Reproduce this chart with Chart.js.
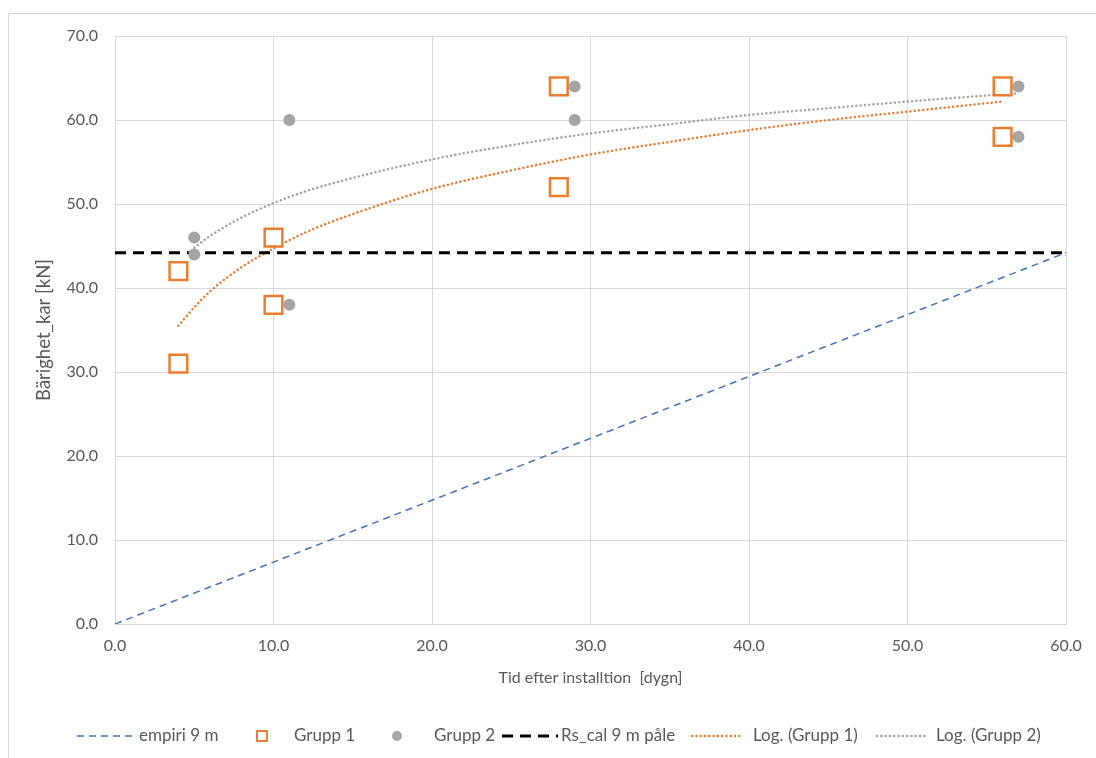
<!DOCTYPE html>
<html>
<head>
<meta charset="utf-8">
<script src="https://cdn.jsdelivr.net/npm/chart.js@4.4.1/dist/chart.umd.min.js"></script>
<style>
    html, body { margin: 0; padding: 0; background: #fff; overflow: hidden; }
    .frame { position: absolute; left: 8px; top: 13px; width: 1120px; height: 780px; border: 1px solid #d9d9d9; }
    #chart { position: absolute; left: 0; top: 0; }
</style>
</head>
<body>
<div class="frame"></div>
<canvas id="chart" width="1096" height="758"></canvas>
<script>
// Values
const daysG1 = [4, 4, 10, 10, 28, 28, 56, 56];
const loadG1 = [31, 42, 38, 46, 64, 52, 64, 58];
const daysG2 = [5, 5, 11, 11, 29, 29, 57, 57];
const loadG2 = [46, 44, 60, 38, 64, 60, 64, 58];

const empiriX = [0, 60];
const empiriY = [0, 44.2];
const rsX = [0, 60];
const rsY = [44.2, 44.2];

// trendlines
const logX1 = [4, 5, 6, 8, 10, 12, 15, 20, 25, 30, 35, 40, 45, 50, 56];
const logY1 = [35.5, 37.7, 39.6, 42.5, 44.7, 46.6, 48.8, 51.8, 54.0, 55.9, 57.4, 58.8, 60.0, 61.0, 62.2];
const logX2 = [5, 6, 8, 10, 12, 15, 20, 25, 30, 35, 40, 45, 50, 57];
const logY2 = [44.8, 46.2, 48.4, 50.1, 51.5, 53.1, 55.3, 57.0, 58.4, 59.5, 60.6, 61.4, 62.2, 63.2];

const xTitle = 'Tid efter installtion  [dygn]';
const yTitle = 'Bärighet_kar [kN]';

function pairs(xs, ys) {
    return xs.map((x, i) => ({ x: x, y: ys[i] }));
}

const textColor = '#595959';
const gridColor = '#d9d9d9';
const fontFamily = 'Lato, "Open Sans", sans-serif';

// Excel style legend at the bottom
const legendPlugin = {
    id: 'excelLegend',
    afterDraw(chart) {
        const ctx = chart.ctx;
        const y = 736;
        // [sample start, sample length, label start] per dataset
        const slots = [[77, 56, 139], [234, 56, 294], [369, 56, 434], [502, 56, 561], [692, 50, 753], [877, 50, 936]];
        ctx.save();
        ctx.font = '17px ' + fontFamily;
        ctx.textBaseline = 'middle';
        chart.data.datasets.forEach((ds, k) => {
            const [sx, len, tx] = slots[k];
            if (ds.showLine) {
                ctx.beginPath();
                ctx.setLineDash(ds.borderDash || []);
                ctx.lineCap = ds.borderCapStyle || 'butt';
                ctx.strokeStyle = ds.borderColor;
                ctx.lineWidth = ds.borderWidth;
                ctx.moveTo(sx, y);
                ctx.lineTo(sx + len, y);
                ctx.stroke();
                ctx.setLineDash([]);
            } else if (ds.pointStyle === 'rect') {
                ctx.strokeStyle = ds.borderColor;
                ctx.lineWidth = 2;
                ctx.fillStyle = '#fff';
                ctx.fillRect(sx + 23, y - 5, 10, 10);
                ctx.strokeRect(sx + 23, y - 5, 10, 10);
            } else {
                ctx.beginPath();
                ctx.fillStyle = ds.backgroundColor;
                ctx.arc(sx + 28, y, 5, 0, Math.PI * 2);
                ctx.fill();
            }
            ctx.fillStyle = textColor;
            ctx.fillText(ds.label, tx, y);
        });
        ctx.restore();
    }
};

const ctx = document.getElementById('chart').getContext('2d');
const chart = new Chart(ctx, {
    type: 'scatter',
    data: {
        datasets: [
            {
                label: 'empiri 9 m',
                data: pairs(empiriX, empiriY),
                showLine: true,
                borderColor: '#4472C4',
                borderWidth: 1.5,
                borderDash: [7, 5],
                pointRadius: 0,
                order: 6
            },
            {
                label: 'Grupp 1',
                data: pairs(daysG1, loadG1),
                pointStyle: 'rect',
                pointRadius: 12.5,
                pointHoverRadius: 12.5,
                borderColor: '#ED7D31',
                backgroundColor: '#ffffff',
                borderWidth: 2.5,
                order: 1
            },
            {
                label: 'Grupp 2',
                data: pairs(daysG2, loadG2),
                pointStyle: 'circle',
                pointRadius: 6,
                pointHoverRadius: 6,
                borderColor: '#A5A5A5',
                backgroundColor: '#A5A5A5',
                borderWidth: 0,
                order: 2
            },
            {
                label: 'Rs_cal 9 m påle',
                data: pairs(rsX, rsY),
                showLine: true,
                borderColor: '#000000',
                borderWidth: 3,
                borderDash: [11, 7],
                pointRadius: 0,
                order: 3
            },
            {
                label: 'Log. (Grupp 1)',
                data: pairs(logX1, logY1),
                showLine: true,
                borderColor: '#ED7D31',
                borderWidth: 2.5,
                borderDash: [0.1, 4.2],
                borderCapStyle: 'round',
                cubicInterpolationMode: 'monotone',
                pointRadius: 0,
                order: 4
            },
            {
                label: 'Log. (Grupp 2)',
                data: pairs(logX2, logY2),
                showLine: true,
                borderColor: '#A5A5A5',
                borderWidth: 2.5,
                borderDash: [0.1, 4.2],
                borderCapStyle: 'round',
                cubicInterpolationMode: 'monotone',
                pointRadius: 0,
                order: 5
            }
        ]
    },
    options: {
        responsive: false,
        animation: false,
        layout: {
            padding: { left: 0, top: 36, right: 30, bottom: 63 }
        },
        plugins: {
            legend: { display: false },
            tooltip: { enabled: false }
        },
        scales: {
            x: {
                type: 'linear',
                min: 0,
                max: 60,
                afterFit: function(scale) { scale.height = 71; },
                grid: { color: gridColor, drawTicks: false },
                border: { color: gridColor },
                ticks: {
                    stepSize: 10,
                    padding: 12,
                    color: textColor,
                    font: { family: fontFamily, size: 16 },
                    callback: function(value) { return value.toFixed(1); }
                },
                title: {
                    display: true,
                    text: xTitle,
                    color: textColor,
                    font: { family: fontFamily, size: 16 },
                    padding: { top: 0, bottom: 8 }
                }
            },
            y: {
                type: 'linear',
                min: 0,
                max: 70,
                afterFit: function(scale) { scale.width = 115; },
                grid: { color: gridColor, drawTicks: false },
                border: { color: gridColor },
                ticks: {
                    stepSize: 10,
                    padding: 17,
                    color: textColor,
                    font: { family: fontFamily, size: 16 },
                    callback: function(value) { return value.toFixed(1); }
                },
                title: {
                    display: true,
                    text: yTitle,
                    color: textColor,
                    font: { family: fontFamily, size: 18.5 },
                    padding: { top: 33, bottom: 0 }
                }
            }
        }
    },
    plugins: [legendPlugin]
});
</script>
</body>
</html>
